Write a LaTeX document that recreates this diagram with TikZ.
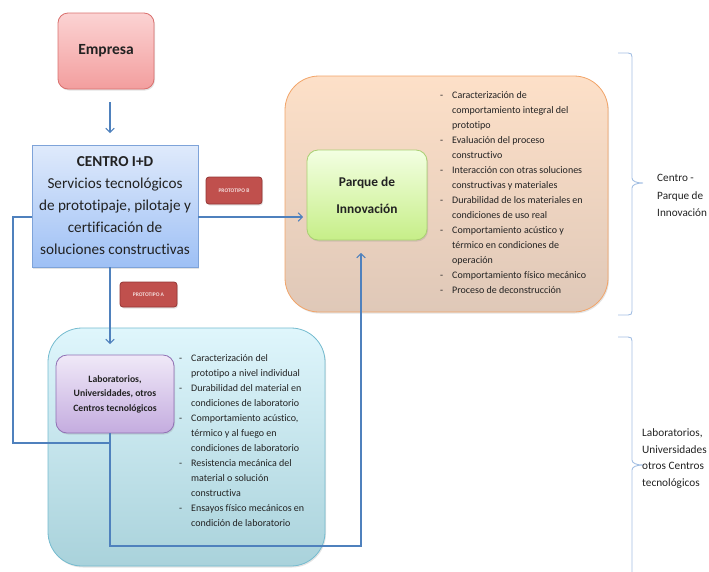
\documentclass[tikz,border=0pt]{standalone}
\usepackage{fontspec}
\setmainfont{Carlito}[Ligatures=NoCommon]
\usetikzlibrary{arrows.meta,shadows,calc}
\definecolor{txt}{HTML}{222222}
\definecolor{conncol}{HTML}{4F81BD}
\definecolor{bracecol}{HTML}{A3BFE3}
\definecolor{empT}{HTML}{FBD3D3}
\definecolor{empB}{HTML}{F39E9E}
\definecolor{empD}{HTML}{D9706E}
\definecolor{cenT}{HTML}{DFEAFB}
\definecolor{cenB}{HTML}{9EC0F5}
\definecolor{cenD}{HTML}{7EA3D9}
\definecolor{proF}{HTML}{C0504D}
\definecolor{proD}{HTML}{943634}
\definecolor{proT}{HTML}{F4DEDD}
\definecolor{orT}{HTML}{FDE0C8}
\definecolor{orM}{HTML}{F8CCAA}
\definecolor{orB}{HTML}{DFC8B8}
\definecolor{orD}{HTML}{F2A468}
\definecolor{grT}{HTML}{F3FFE2}
\definecolor{grB}{HTML}{C6EE88}
\definecolor{grD}{HTML}{A9CF72}
\definecolor{cyT}{HTML}{DFF6FC}
\definecolor{cyM}{HTML}{BDEDFB}
\definecolor{cyB}{HTML}{A9D2DB}
\definecolor{cyD}{HTML}{74BBCF}
\definecolor{puT}{HTML}{F0E9F8}
\definecolor{puB}{HTML}{C4ACDF}
\definecolor{puD}{HTML}{9070B4}
\begin{document}
\begin{tikzpicture}[x=1pt,y=-1pt,
  box/.style={draw, line width=0.8pt, inner sep=0pt, align=center, text=txt,
    drop shadow={opacity=0.22, shadow xshift=1pt, shadow yshift=-1.5pt}},
  bigbox/.style={box, rounded corners=34pt},
  empbox/.style={box, rounded corners=10pt, top color=empT, bottom color=empB, draw=empD,
    minimum width=96pt, minimum height=76pt, font=\bfseries\fontsize{15.5}{20}\selectfont},
  cenbox/.style={box, top color=cenT, bottom color=cenB, draw=cenD,
    minimum width=166pt, minimum height=122pt, font=\fontsize{15.2}{22}\selectfont},
  probox/.style={box, rounded corners=3pt, fill=proF, draw=proD, text=proT,
    font=\bfseries\fontsize{5.5}{6}\selectfont},
  parbox/.style={box, rounded corners=11pt, top color=grT, bottom color=grB, draw=grD,
    minimum width=120pt, minimum height=90pt, font=\bfseries\fontsize{13.4}{27}\selectfont},
  labbox/.style={box, rounded corners=11pt, top color=puT, bottom color=puB, draw=puD,
    minimum width=118pt, minimum height=78pt, font=\bfseries\fontsize{9.7}{14.5}\selectfont},
  listtext/.style={inner sep=0pt, anchor=base west, text=txt, font=\fontsize{10}{15}\selectfont},
  sidetext/.style={inner sep=0pt, anchor=base west, align=left, text=txt},
  line/.style={draw=conncol, line width=1.1pt},
  arrow/.style={line, -{Straight Barb[length=4pt,width=8.5pt,line width=1.1pt]}},
  brace/.style={draw=bracecol, line width=0.9pt}
]
\useasboundingbox (0,0) rectangle (709,571);

% background containers
\node[bigbox, top color=orT, middle color=orM, bottom color=orB, draw=orD,
  minimum width=323pt, minimum height=236pt] (orange) at (446.5,194) {};
\node[bigbox, top color=cyT, middle color=cyM, bottom color=cyB, draw=cyD,
  minimum width=277pt, minimum height=238pt] (cyan) at (186.5,447) {};

% main boxes
\node[empbox] (emp) at (106,51) {Empresa};
\node[cenbox] (cen) at (115,206) {\textbf{CENTRO I+D}\\Servicios tecnológicos\\de prototipaje, pilotaje y\\certificación de\\soluciones constructivas};
\node[probox, minimum width=56pt, minimum height=27pt] (protB) at (234,190.5) {PROTOTIPO B};
\node[probox, minimum width=57pt, minimum height=25pt] (protA) at (148.5,294.5) {PROTOTIPO A};
\node[parbox] (par) at (367,195) {Parque de\\Innovación};
\node[labbox] (lab) at (115,394) {Laboratorios,\\Universidades, otros\\Centros tecnológicos};

% lists
\node[listtext] (listO) at (440,98) {\begin{tabular}[t]{@{}p{12pt}@{}l@{}}
- & Caracterización de\\
  & comportamiento integral del\\
  & prototipo\\
- & Evaluación del proceso\\
  & constructivo\\
- & Interacción con otras soluciones\\
  & constructivas y materiales\\
- & Durabilidad de los materiales en\\
  & condiciones de uso real\\
- & Comportamiento acústico y\\
  & térmico en condiciones de\\
  & operación\\
- & Comportamiento físico mecánico\\
- & Proceso de deconstrucción
\end{tabular}};
\node[listtext] (listC) at (179,361) {\begin{tabular}[t]{@{}p{12pt}@{}l@{}}
- & Caracterización del\\
  & prototipo a nivel individual\\
- & Durabilidad del material en\\
  & condiciones de laboratorio\\
- & Comportamiento acústico,\\
  & térmico y al fuego en\\
  & condiciones de laboratorio\\
- & Resistencia mecánica del\\
  & material o solución\\
  & constructiva\\
- & Ensayos físico mecánicos en\\
  & condición de laboratorio
\end{tabular}};

% connectors
\coordinate (e1) at (110,102);
\coordinate (e2) at (110,133);
\coordinate (xl) at (13,443);
\coordinate (xj) at (110,443);
\coordinate (xb) at (110,546);
\coordinate (xr) at (361,546);
\coordinate (ptip) at (361,253);
\coordinate (ctip) at (110,344);
\coordinate (ytip) at (303,217);

\draw[arrow] (e1) -- (e2);
\draw[arrow] (cen.east |- ytip) -- (ytip);
\draw[arrow] (cen.south -| xj) -- (ctip);
\draw[line] (cen.west |- ytip) -| (xl) -- (xj);
\draw[arrow] (lab.south -| xj) -- (xb) -- (xr) -- (ptip);

% braces
\draw[brace] (618,53) -- (628,53) .. controls (631,53) and (632,54) .. (632,57)
  -- (632,178) .. controls (632,181) and (636,183) .. (643,183)
  .. controls (636,183) and (632,185) .. (632,188)
  -- (632,311) .. controls (632,314) and (631,315) .. (628,315) -- (618,315);
\draw[brace] (618,337) -- (628,337) .. controls (631,337) and (632,338) .. (632,341)
  -- (632,460) .. controls (632,463) and (636,465) .. (643,465)
  .. controls (636,465) and (632,467) .. (632,470)
  -- (632,572);

\node[sidetext, font=\fontsize{11.2}{17.5}\selectfont] (t1) at (657,216.5) {Centro -\\Parque de\\Innovación};
\node[sidetext, font=\fontsize{11.3}{16.5}\selectfont] (t2) at (642,486) {Laboratorios,\\Universidades\\otros Centros\\tecnológicos};
\end{tikzpicture}
\end{document}
